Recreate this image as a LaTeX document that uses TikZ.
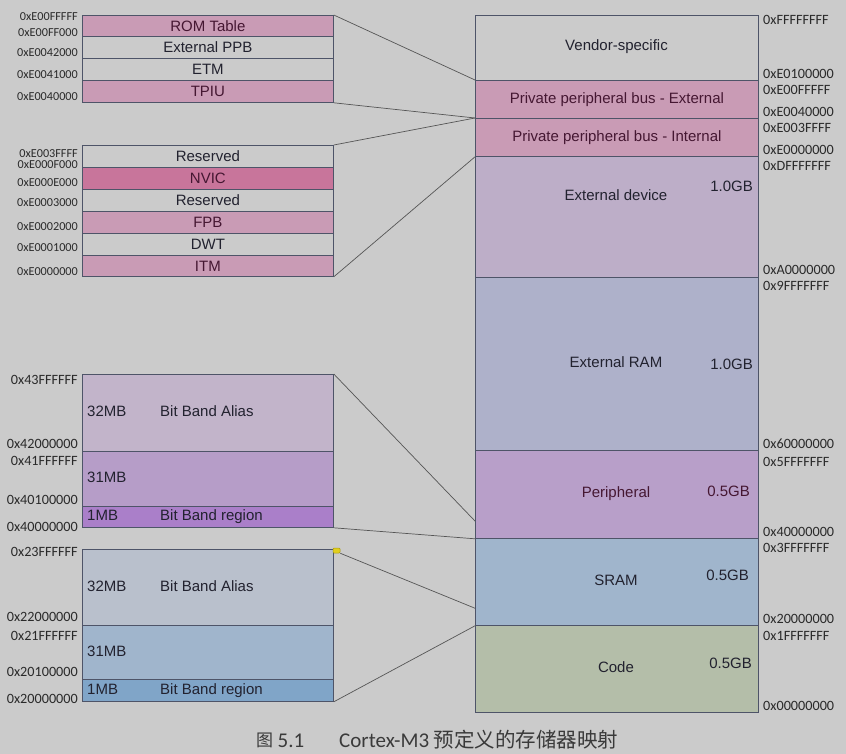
\documentclass[tikz,border=0pt]{standalone}
\usepackage{fontspec}
\setmainfont{Liberation Sans}
\newfontfamily\hexfont{Carlito}
\newfontfamily\cjkfont{Noto Sans CJK SC}
\usetikzlibrary{calc}
\definecolor{bg}{HTML}{CBCBCB}
\definecolor{bordc}{HTML}{4E5468}
\definecolor{connc}{HTML}{555555}
\definecolor{txtc}{HTML}{22222F}
\definecolor{pinktxt}{HTML}{451732}
\definecolor{hexc}{HTML}{2A2A2A}
\definecolor{pinkc}{HTML}{C99BB5}
\definecolor{nvicc}{HTML}{C8759B}
\definecolor{extdevc}{HTML}{BDAEC8}
\definecolor{extramc}{HTML}{AEB1CA}
\definecolor{periphc}{HTML}{B89FC9}
\definecolor{sramc}{HTML}{A0B5CC}
\definecolor{codec}{HTML}{B4BEA9}
\definecolor{aliasAc}{HTML}{C2B4CA}
\definecolor{midAc}{HTML}{B69DC8}
\definecolor{bbAc}{HTML}{AA7FC9}
\definecolor{aliasBc}{HTML}{B9C0CC}
\definecolor{midBc}{HTML}{A0B5CC}
\definecolor{bbBc}{HTML}{80A5C8}
\definecolor{capc}{HTML}{3A3A3A}
\definecolor{notefill}{HTML}{E2CF1E}
\definecolor{notedraw}{HTML}{A89A10}
\begin{document}
\begin{tikzpicture}[x=1pt,y=-1pt,
  cell/.style={draw=bordc, line width=0.8pt, inner sep=0pt, anchor=north west,
    font=\fontsize{15}{18}\selectfont, text=txtc},
  pcell/.style={cell, fill=pinkc, text=pinktxt},
  wcell/.style={cell, fill=bg},
  btxt/.style={inner sep=0pt, font=\fontsize{15}{18}\selectfont, text=txtc,
    text height=11pt, text depth=3pt},
  hexs/.style={inner sep=0pt, text=hexc, font=\hexfont\fontsize{12.2}{14}\selectfont, anchor=east},
  hexl/.style={inner sep=0pt, text=hexc, font=\hexfont\fontsize{14.2}{16}\selectfont, anchor=east},
  hexr/.style={inner sep=0pt, text=hexc, font=\hexfont\fontsize{14.2}{16}\selectfont, anchor=west},
  conn/.style={draw=connc, line width=0.7pt}]
\fill[bg] (0,0) rectangle (846,754);
\useasboundingbox (0,0) rectangle (846,754);

% ---------- right column ----------
\node[wcell, minimum width=283pt, minimum height=65pt] (vendor) at (475,15) {};
\node[pcell, minimum width=283pt, minimum height=38pt] (ppbext) at (475,80) {Private peripheral bus - External};
\node[pcell, minimum width=283pt, minimum height=38pt] (ppbint) at (475,118) {Private peripheral bus - Internal};
\node[cell, fill=extdevc, minimum width=283pt, minimum height=120.5pt] (extdev) at (475,156) {};
\node[cell, fill=extramc, minimum width=283pt, minimum height=173.5pt] (extram) at (475,276.5) {};
\node[cell, fill=periphc, minimum width=283pt, minimum height=88pt] (periph) at (475,450) {};
\node[cell, fill=sramc, minimum width=283pt, minimum height=87pt] (sram) at (475,538) {};
\node[cell, fill=codec, minimum width=283pt, minimum height=87pt] (code) at (475,625) {};

\node[btxt] (tvendor) at (616.5,47) {Vendor-specific};
\node[btxt] (textdev) at (616,197) {External device};
\node[btxt, anchor=east] (gextdev) at (753,188) {1.0GB};
\node[btxt] (textram) at (616,363) {External RAM};
\node[btxt, anchor=east] (gextram) at (753,365) {1.0GB};
\node[btxt, text=pinktxt] (tperiph) at (616,493) {Peripheral};
\node[btxt, text=pinktxt, anchor=east] (gperiph) at (750,492) {0.5GB};
\node[btxt] (tsram) at (616,581) {SRAM};
\node[btxt, anchor=east] (gsram) at (749,576) {0.5GB};
\node[btxt] (tcode) at (616,668) {Code};
\node[btxt, anchor=east] (gcode) at (752,664) {0.5GB};

% right addresses
\node[hexr] (r1) at (763,20) {0xFFFFFFFF};
\node[hexr] (r2) at (763,74) {0xE0100000};
\node[hexr] (r3) at (763,90) {0xE00FFFFF};
\node[hexr] (r4) at (763,112) {0xE0040000};
\node[hexr] (r5) at (763,128) {0xE003FFFF};
\node[hexr] (r6) at (763,150) {0xE0000000};
\node[hexr] (r7) at (763,166) {0xDFFFFFFF};
\node[hexr] (r8) at (763,270) {0xA0000000};
\node[hexr] (r9) at (763,286) {0x9FFFFFFF};
\node[hexr] (r10) at (763,444) {0x60000000};
\node[hexr] (r11) at (763,462) {0x5FFFFFFF};
\node[hexr] (r12) at (763,532) {0x40000000};
\node[hexr] (r13) at (763,548) {0x3FFFFFFF};
\node[hexr] (r14) at (763,619) {0x20000000};
\node[hexr] (r15) at (763,636) {0x1FFFFFFF};
\node[hexr] (r16) at (763,706) {0x00000000};

% ---------- upper-left: PPB external ----------
\node[pcell, minimum width=251pt, minimum height=21pt] (rom) at (82,15) {ROM Table};
\node[wcell, minimum width=251pt, minimum height=22pt] (eppb) at (82,36) {External PPB};
\node[wcell, minimum width=251pt, minimum height=22pt] (etm) at (82,58) {ETM};
\node[pcell, minimum width=251pt, minimum height=22pt] (tpiu) at (82,80) {TPIU};

% ---------- PPB internal ----------
\node[wcell, minimum width=251pt, minimum height=22pt] (res1) at (82,145) {Reserved};
\node[pcell, fill=nvicc, minimum width=251pt, minimum height=22pt] (nvic) at (82,167) {NVIC};
\node[wcell, minimum width=251pt, minimum height=22pt] (res2) at (82,189) {Reserved};
\node[pcell, minimum width=251pt, minimum height=22pt] (fpb) at (82,211) {FPB};
\node[wcell, minimum width=251pt, minimum height=22pt] (dwt) at (82,233) {DWT};
\node[pcell, minimum width=251pt, minimum height=21pt] (itm) at (82,255) {ITM};

\node[hexs] (a1) at (78,17) {0xE00FFFFF};
\node[hexs] (a2) at (78,33) {0xE00FF000};
\node[hexs] (a3) at (78,53) {0xE0042000};
\node[hexs] (a4) at (78,75) {0xE0041000};
\node[hexs] (a5) at (78,97) {0xE0040000};
\node[hexs] (a6) at (78,154) {0xE003FFFF};
\node[hexs] (a7) at (78,165) {0xE000F000};
\node[hexs] (a8) at (78,183) {0xE000E000};
\node[hexs] (a9) at (78,203) {0xE0003000};
\node[hexs] (a10) at (78,227) {0xE0002000};
\node[hexs] (a11) at (78,248) {0xE0001000};
\node[hexs] (a12) at (78,272) {0xE0000000};

% ---------- bit band: peripheral ----------
\node[cell, fill=aliasAc, minimum width=251pt, minimum height=77pt] (aliasA) at (82,374) {};
\node[cell, fill=midAc, minimum width=251pt, minimum height=55pt] (midA) at (82,451) {};
\node[cell, fill=bbAc, minimum width=251pt, minimum height=21pt] (bbA) at (82,506) {};
\node[btxt, anchor=west] (t1) at (87,412) {32MB};
\node[btxt, anchor=west] (t2) at (160,412) {Bit Band Alias};
\node[btxt, anchor=west] (t3) at (87,478) {31MB};
\node[btxt, anchor=west] (t4) at (87,516) {1MB};
\node[btxt, anchor=west] (t5) at (160,516) {Bit Band region};

% ---------- bit band: SRAM ----------
\node[cell, fill=aliasBc, minimum width=251pt, minimum height=76pt] (aliasB) at (82,549) {};
\node[cell, fill=midBc, minimum width=251pt, minimum height=54pt] (midB) at (82,625) {};
\node[cell, fill=bbBc, minimum width=251pt, minimum height=22pt] (bbB) at (82,679) {};
\node[btxt, anchor=west] (s1) at (87,587) {32MB};
\node[btxt, anchor=west] (s2) at (160,587) {Bit Band Alias};
\node[btxt, anchor=west] (s3) at (87,652) {31MB};
\node[btxt, anchor=west] (s4) at (87,690) {1MB};
\node[btxt, anchor=west] (s5) at (160,690) {Bit Band region};

\node[hexl] (b1) at (78,380) {0x43FFFFFF};
\node[hexl] (b2) at (78,444) {0x42000000};
\node[hexl] (b3) at (78,461) {0x41FFFFFF};
\node[hexl] (b4) at (78,500) {0x40100000};
\node[hexl] (b5) at (78,527) {0x40000000};
\node[hexl] (b6) at (78,552) {0x23FFFFFF};
\node[hexl] (b7) at (78,617) {0x22000000};
\node[hexl] (b8) at (78,636) {0x21FFFFFF};
\node[hexl] (b9) at (78,672) {0x20100000};
\node[hexl] (b10) at (78,699) {0x20000000};

% yellow note marker
\node[draw=notedraw, fill=notefill, line width=0.5pt, rounded corners=1pt,
  minimum width=7pt, minimum height=5pt, inner sep=0pt] (note) at (336.5,550.5) {};

% ---------- connectors ----------
\draw[conn] (rom.north east) -- (ppbext.north west);
\draw[conn] (tpiu.south east) -- (ppbint.north west);
\draw[conn] (res1.north east) -- (ppbint.north west);
\draw[conn] (itm.south east) -- (ppbint.south west);
\draw[conn] (aliasA.north east) -- ($(periph.north west)!0.8!(periph.south west)$);
\draw[conn] (bbA.south east) -- (periph.south west);
\draw[conn] (note.south east) -- ($(sram.north west)!0.8!(sram.south west)$);
\draw[conn] (bbB.south east) -- (sram.south west);

% ---------- caption ----------
\node[inner sep=0pt, anchor=base west, text=capc, font=\cjkfont\fontsize{17}{20}\selectfont] (capfig) at (256,746) {图};
\node[inner sep=0pt, anchor=base west, text=capc, font=\hexfont\fontsize{21}{24}\selectfont] (capnum) at (277.5,747) {5.1};
\node[inner sep=0pt, anchor=base west, text=capc, font=\hexfont\fontsize{21}{24}\selectfont] (captitle) at (339,747) {Cortex-M3 {\cjkfont\fontsize{20.5}{24}\selectfont 预定义的存储器映射}};
\end{tikzpicture}
\end{document}
